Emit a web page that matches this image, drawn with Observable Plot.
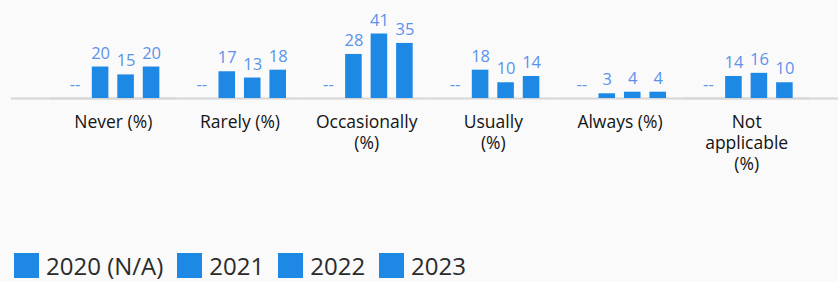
<!DOCTYPE html>
<html>
<head>
<meta charset="utf-8">
<script src="https://cdn.jsdelivr.net/npm/d3@7"></script>
<script src="https://cdn.jsdelivr.net/npm/@observablehq/plot@0.6"></script>
<style>
  html, body { margin: 0; padding: 0; background: #fafafa; }
  body { width: 838px; height: 282px; overflow: hidden; font-family: "Open Sans", sans-serif; }
  #chart svg { display: block; }
  .legend { display: flex; align-items: center; margin: 13px 0 0 14px; height: 25px; }
  .legend .item { display: flex; align-items: center; margin-right: 14px; }
  .legend .sw { width: 25px; height: 25px; background: #1e88e5; margin-right: 7px; }
  .legend .lb { font-size: 24px; line-height: 25px; color: #2b2b2b; }
</style>
</head>
<body>
<div id="chart"></div>
<div class="legend" id="legend"></div>
<script>
const categories = ["Never (%)", "Rarely (%)", "Occasionally (%)", "Usually (%)", "Always (%)", "Not applicable (%)"];
const tickLabels = ["Never (%)", "Rarely (%)", "Occasionally\n(%)", "Usually\n(%)", "Always (%)", "Not\napplicable\n(%)"];
const years = ["2020 (N/A)", "2021", "2022", "2023"];
const v2020 = [null, null, null, null, null, null];
const v2021 = [20, 17, 28, 18, 3, 14];
const v2022 = [15, 13, 41, 10, 4, 16];
const v2023 = [20, 18, 35, 14, 4, 10];

const series = [v2020, v2021, v2022, v2023];
const data = [];
categories.forEach((c, i) => {
  years.forEach((y, j) => {
    data.push({category: c, year: y, value: series[j][i]});
  });
});

const barColor = "#1e88e5";
const labelColor = "#5b93ea";

const chart = Plot.plot({
  width: 838,
  height: 240,
  marginTop: 33.5,
  marginBottom: 142,
  marginLeft: 49.5,
  marginRight: 28.5,
  style: {background: "#fafafa", fontFamily: "Open Sans, sans-serif"},
  fx: {domain: categories, padding: 0, round: false, label: null, axis: null},
  x: {domain: years, paddingInner: 0.35, paddingOuter: 0.66, round: false, axis: null},
  y: {domain: [0, 41], axis: null},
  marks: [
    Plot.ruleY(categories, {fx: d => d, y: () => 0, stroke: "#d6d6d6", strokeWidth: 2}),
    Plot.ruleY([categories[0]], {fx: d => d, y: () => 0, stroke: "#d6d6d6", strokeWidth: 2, insetLeft: -38.5}),
    Plot.ruleY([categories[categories.length - 1]], {fx: d => d, y: () => 0, stroke: "#d6d6d6", strokeWidth: 2, insetRight: -28.5}),
    Plot.barY(data.filter(d => d.value != null), {fx: "category", x: "year", y: "value", fill: barColor}),
    Plot.text(data, {
      fx: "category", x: "year",
      y: d => d.value ?? 0,
      text: d => d.value == null ? "--" : String(d.value),
      dy: -8.5, lineAnchor: "bottom", fontSize: 16.5, fill: labelColor
    }),
    Plot.axisFx({
      anchor: "bottom",
      tickSize: 0,
      tickPadding: 14.5,
      label: null,
      tickFormat: d => tickLabels[categories.indexOf(d)],
      fontSize: 17.5,
      lineHeight: 1.2,
      fill: "#141414"
    })
  ]
});
document.getElementById("chart").appendChild(chart);

const legend = document.getElementById("legend");
years.forEach(y => {
  const item = document.createElement("div");
  item.className = "item";
  const sw = document.createElement("span");
  sw.className = "sw";
  const lb = document.createElement("span");
  lb.className = "lb";
  lb.textContent = y;
  item.appendChild(sw);
  item.appendChild(lb);
  legend.appendChild(item);
});
</script>
</body>
</html>
